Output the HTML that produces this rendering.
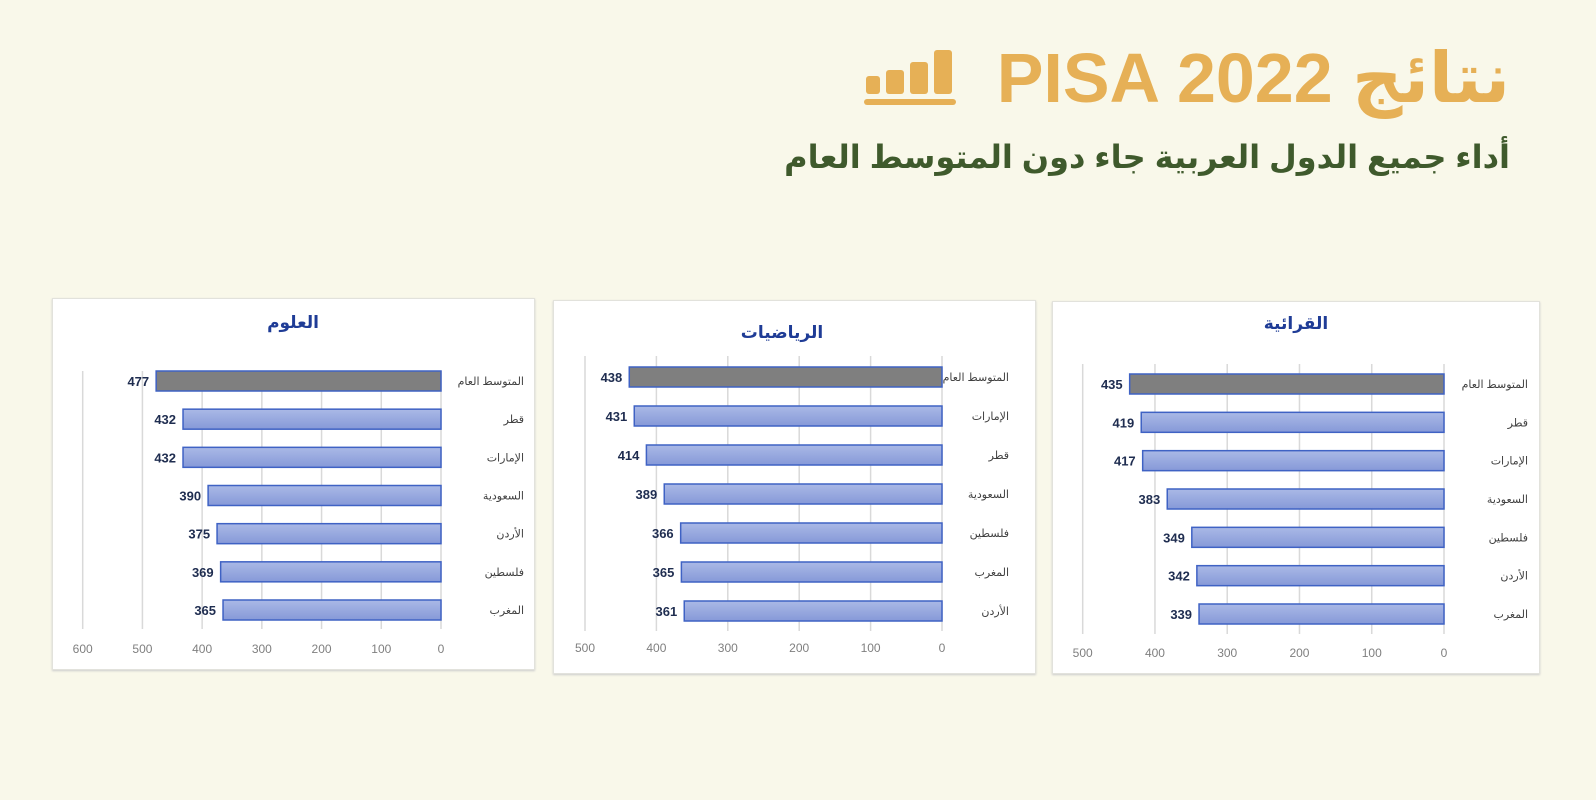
<!DOCTYPE html>
<html><head><meta charset="utf-8">
<style>
body{margin:0;width:1596px;height:800px;background:#f9f8ea;position:relative;overflow:hidden;font-family:"Liberation Sans","DejaVu Sans",sans-serif}
.title{position:absolute;right:86px;top:36px;font-size:70px;font-weight:bold;color:#e6b056;direction:rtl;white-space:nowrap;line-height:84px}
.sub{position:absolute;right:86px;top:138px;font-size:32px;font-weight:bold;color:#3f5a2c;direction:rtl;white-space:nowrap}
.panel{position:absolute;background:#fff;border:1px solid #e2e2dc;box-shadow:0 1px 2px #ccc}
svg text{font-family:"Liberation Sans","DejaVu Sans",sans-serif}
</style></head><body>
<div class="title">نتائج PISA 2022</div>
<svg style="position:absolute;left:864px;top:48px" width="92" height="58">
<rect x="2" y="28" width="14" height="18" rx="3" fill="#e6b056"/><rect x="22" y="22" width="18" height="24" rx="3" fill="#e6b056"/><rect x="46" y="14" width="18" height="32" rx="3" fill="#e6b056"/><rect x="70" y="2" width="18" height="44" rx="3" fill="#e6b056"/><rect x="0" y="51" width="92" height="6" rx="3" fill="#e6b056"/></svg>
<div class="sub">أداء جميع الدول العربية جاء دون المتوسط العام</div>

<div class="panel" style="left:52px;top:298px;width:481px;height:370px"><svg id="c1" width="481" height="370"></svg></div>
<div class="panel" style="left:553px;top:300px;width:481px;height:372px"><svg id="c2" width="481" height="372"></svg></div>
<div class="panel" style="left:1052px;top:301px;width:486px;height:371px"><svg id="c3" width="486" height="371"></svg></div>

<script>
const sciCats=["المتوسط العام","قطر","الإمارات","السعودية","الأردن","فلسطين","المغرب"];
const sciVals=[477,432,432,390,375,369,365];
const sciTicks=[0,100,200,300,400,500,600];
const mathCats=["المتوسط العام","الإمارات","قطر","السعودية","فلسطين","المغرب","الأردن"];
const mathVals=[438,431,414,389,366,365,361];
const mathTicks=[0,100,200,300,400,500];
const readCats=["المتوسط العام","قطر","الإمارات","السعودية","فلسطين","الأردن","المغرب"];
const readVals=[435,419,417,383,349,342,339];
const readTicks=[0,100,200,300,400,500];
const NS="http://www.w3.org/2000/svg";
function mk(p,t,a){const e=document.createElementNS(NS,t);for(const k in a)e.setAttribute(k,a[k]);p.appendChild(e);return e;}
function draw(id,title,cats,vals,ticks,g){
 const s=document.getElementById(id);
 const defs=mk(s,"defs",{});const lg=mk(defs,"linearGradient",{id:id+"g",x1:0,y1:0,x2:0,y2:1});
 mk(lg,"stop",{offset:"0","stop-color":"#aab9e6"});mk(lg,"stop",{offset:"1","stop-color":"#8699d8"});
 const x=v=>g.x0-(g.x0-g.xm)*v/g.max;
 const y=i=>g.y0+(g.y1-g.y0)*i/(cats.length-1);
 const t=mk(s,"text",{x:g.tx,y:g.ty,"text-anchor":"middle","font-size":17,"font-weight":"bold",fill:"#1f3c96"});t.textContent=title;
 
 
 ticks.forEach(v=>{
  const l=mk(s,"line",{x1:x(v),x2:x(v),y1:g.gt,y2:g.gb,stroke:"#d9d9d9","stroke-width":1.5});
  
  
  const tt=mk(s,"text",{x:x(v),y:g.tl,"text-anchor":"middle","font-size":12,fill:"#7f7f7f"});tt.textContent=v;
  
  
 });
 cats.forEach((c,i)=>{
  const r=mk(s,"rect",{x:x(vals[i]),y:y(i)-10,width:x(0)-x(vals[i]),height:20,fill:i==0?"#7f7f7f":"url(#"+id+"g)",stroke:"#3f62c4","stroke-width":1.5});
  
  
  const v=mk(s,"text",{x:x(vals[i])-7,y:y(i)+5,"text-anchor":"end","font-size":13,"font-weight":"bold",fill:"#1f2d50"});v.textContent=vals[i];
  
  
  const cl=mk(s,"text",{x:g.lx,y:y(i)+4,"text-anchor":"end","font-size":11,fill:"#404040"});cl.textContent=c;
  
  
 });
}
draw("c1","العلوم",sciCats,sciVals,sciTicks,{x0:388,xm:29.7,max:600,y0:82,y1:311,gt:72,gb:330,tl:354,tx:240,ty:29,lx:471});
draw("c2","الرياضيات",mathCats,mathVals,mathTicks,{x0:388,xm:31,max:500,y0:76,y1:310,gt:55,gb:330,tl:351,tx:228,ty:37,lx:455});
draw("c3","القرائية",readCats,readVals,readTicks,{x0:391,xm:29.7,max:500,y0:82,y1:312,gt:62,gb:332,tl:355,tx:243,ty:27,lx:475});
</script>
</body></html>
